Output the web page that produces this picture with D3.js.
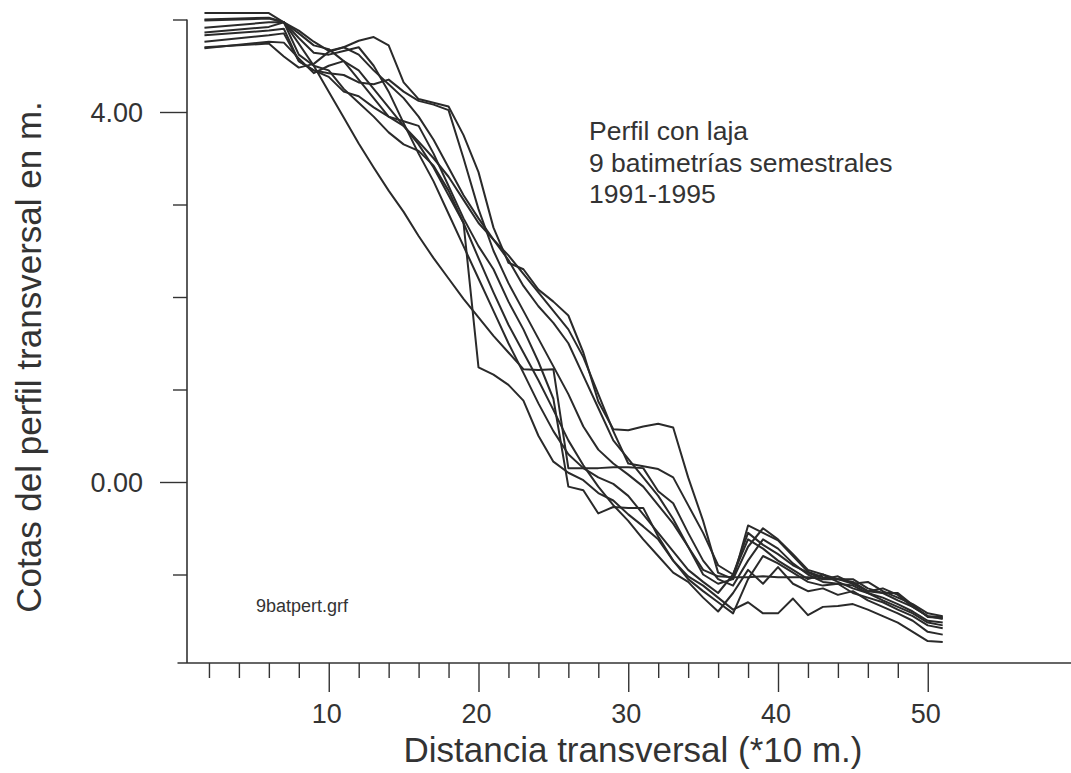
<!DOCTYPE html>
<html>
<head>
<meta charset="utf-8">
<script src="https://cdn.jsdelivr.net/npm/d3@7"></script>
<style>
  html, body { margin: 0; padding: 0; background: #fff; }
  svg { display: block; }
  text { font-family: "Liberation Sans", Arial, sans-serif; fill: #333; }
</style>
</head>
<body>
<svg id="chart" width="1071" height="773"></svg>
<script>
// Distance positions (*10 m)
const distances = [1.7, 6, 7, 8, 9, 10, 11, 12, 13, 14, 15, 16, 17, 18, 19, 20, 21, 22, 23, 24, 25, 26, 27, 28, 29, 30, 31, 32, 33, 34, 35, 36, 37, 38, 39, 40, 41, 42, 43, 44, 45, 46, 47, 48, 49, 50, 51];

// Nine semi-annual bathymetries (elevation, m)
const survey1 = [5.07, 5.07, 4.97, 4.88, 4.76, 4.66, 4.70, 4.77, 4.81, 4.72, 4.32, 4.14, 4.10, 4.06, 3.75, 3.35, 2.75, 2.37, 2.30, 2.08, 1.95, 1.80, 1.40, 0.87, 0.57, 0.56, 0.60, 0.63, 0.59, 0.05, -0.42, -0.98, -1.05, -0.47, -0.55, -0.63, -0.80, -0.97, -1.03, -1.05, -1.08, -1.18, -1.20, -1.20, -1.33, -1.46, -1.47];
const survey2 = [5.00, 5.02, 4.97, 4.74, 4.50, 4.22, 3.94, 3.66, 3.40, 3.15, 2.92, 2.66, 2.42, 2.20, 1.98, 1.78, 1.58, 1.40, 1.22, 1.21, 1.22, 0.15, 0.15, 0.15, 0.16, 0.16, 0.15, -0.10, -0.23, -0.55, -0.85, -1.05, -1.12, -0.85, -0.62, -0.72, -0.88, -1.00, -1.08, -1.10, -1.12, -1.20, -1.28, -1.35, -1.42, -1.52, -1.55];
const survey3 = [4.99, 5.01, 4.97, 4.85, 4.72, 4.68, 4.55, 4.35, 4.15, 3.95, 3.85, 3.65, 3.40, 3.10, 2.80, 1.24, 1.16, 1.05, 0.88, 0.50, 0.22, 0.10, 0.02, -0.12, -0.20, -0.35, -0.48, -0.62, -0.85, -1.02, -1.12, -1.25, -1.38, -1.30, -1.42, -1.42, -1.26, -1.44, -1.35, -1.34, -1.32, -1.38, -1.45, -1.52, -1.62, -1.72, -1.73];
const survey4 = [4.91, 4.97, 4.97, 4.80, 4.64, 4.62, 4.66, 4.70, 4.50, 4.22, 3.88, 3.55, 3.25, 2.90, 2.55, 2.20, 1.85, 1.50, 1.18, 0.85, 0.55, 0.30, 0.15, 0.05, -0.02, -0.15, -0.35, -0.55, -0.75, -0.95, -1.08, -1.20, -1.00, -0.62, -0.72, -0.85, -0.95, -1.05, -1.00, -1.08, -1.15, -1.20, -1.25, -1.32, -1.40, -1.50, -1.52];
const survey5 = [4.86, 4.92, 4.97, 4.62, 4.50, 4.45, 4.25, 4.10, 3.95, 3.78, 3.65, 3.58, 3.42, 3.15, 2.80, 2.42, 2.05, 1.70, 1.40, 1.10, 0.78, 0.45, 0.18, -0.05, -0.25, -0.42, -0.62, -0.80, -0.98, -1.08, -1.25, -1.40, -1.20, -0.95, -1.10, -0.92, -1.10, -1.18, -1.15, -1.22, -1.18, -1.28, -1.35, -1.42, -1.50, -1.62, -1.65];
const survey6 = [4.83, 4.88, 4.90, 4.55, 4.45, 4.38, 4.22, 4.17, 4.05, 3.95, 3.90, 3.85, 3.55, 3.20, 2.85, 2.55, 2.30, 1.95, 1.65, 1.30, 0.90, -0.05, -0.09, -0.34, -0.27, -0.28, -0.28, -0.59, -0.85, -1.05, -1.18, -1.30, -1.42, -1.05, -0.80, -0.88, -0.98, -1.08, -1.12, -1.10, -1.20, -1.25, -1.30, -1.38, -1.45, -1.55, -1.58];
const survey7 = [4.76, 4.83, 4.85, 4.55, 4.45, 4.42, 4.40, 4.32, 4.30, 4.35, 4.22, 4.12, 4.08, 4.02, 3.50, 2.95, 2.50, 2.15, 1.85, 1.55, 1.25, 0.95, 0.60, 0.35, 0.20, 0.08, -0.05, -0.25, -0.45, -0.70, -0.95, -1.02, -1.03, -1.03, -1.02, -1.03, -1.03, -1.03, -1.05, -1.02, -1.10, -1.08, -1.18, -1.25, -1.32, -1.42, -1.45];
const survey8 = [4.69, 4.76, 4.75, 4.58, 4.42, 4.50, 4.55, 4.45, 4.25, 4.05, 3.85, 3.68, 3.50, 3.30, 3.05, 2.80, 2.62, 2.40, 2.12, 1.90, 1.72, 1.50, 1.15, 0.80, 0.45, 0.25, 0.05, -0.15, -0.40, -0.70, -1.00, -1.10, -1.05, -0.70, -0.50, -0.62, -0.78, -0.95, -1.00, -1.05, -1.05, -1.15, -1.20, -1.28, -1.35, -1.45, -1.48];
const survey9 = [4.70, 4.74, 4.60, 4.48, 4.52, 4.65, 4.70, 4.62, 4.45, 4.30, 4.15, 3.95, 3.70, 3.40, 3.10, 2.85, 2.62, 2.45, 2.25, 2.05, 1.85, 1.65, 1.35, 0.95, 0.55, 0.20, 0.17, 0.14, 0.05, -0.25, -0.55, -0.90, -1.00, -0.55, -0.68, -0.78, -0.90, -0.98, -1.05, -1.05, -1.10, -1.18, -1.15, -1.22, -1.35, -1.45, -1.46];

const xMinorTicks = [2, 4, 6, 8, 12, 14, 16, 18, 22, 24, 26, 28, 32, 34, 36, 38, 42, 44, 46, 48];
const xMajorTicks = [10, 20, 30, 40, 50];
const yMinorTicks = [5, 3, 2, 1, -1];
const yMajorTicks = [4, 0];
const yTickLabels = ["4.00", "0.00"];

const noteLines = ["Perfil con laja", "9 batimetrías semestrales", "1991-1995"];
const fileLabel = "9batpert.grf";
const xTitle = "Distancia transversal (*10 m.)";
const yTitle = "Cotas del perfil transversal en m.";

const surveys = [survey1, survey2, survey3, survey4, survey5, survey6, survey7, survey8, survey9];

const svg = d3.select("#chart");
const ink = "#333";

const x = d3.scaleLinear().domain([0, 60]).range([179, 179 + 14.975 * 60]);
const y = d3.scaleLinear().domain([-2, 5]).range([667, 19.5]);

const axisY0 = 663;   // pixel row of x-axis
const axisX0 = 187;   // pixel column of y-axis

// x axis ticks
const gxMinor = svg.append("g").attr("transform", `translate(0,${axisY0})`)
  .call(d3.axisBottom(x).tickValues(xMinorTicks).tickSize(15).tickFormat(""));
const gxMajor = svg.append("g").attr("transform", `translate(0,${axisY0})`)
  .call(d3.axisBottom(x).tickValues(xMajorTicks).tickSize(29).tickFormat(""));
[gxMinor, gxMajor].forEach(g => {
  g.select(".domain").remove();
  g.selectAll(".tick line").attr("stroke", ink).attr("stroke-width", 1.4);
});

// y axis ticks
const gyMinor = svg.append("g").attr("transform", `translate(${axisX0},0)`)
  .call(d3.axisLeft(y).tickValues(yMinorTicks).tickSize(14).tickFormat(""));
const gyMajor = svg.append("g").attr("transform", `translate(${axisX0},0)`)
  .call(d3.axisLeft(y).tickValues(yMajorTicks).tickSize(27).tickFormat(""));
[gyMinor, gyMajor].forEach(g => {
  g.select(".domain").remove();
  g.selectAll(".tick line").attr("stroke", ink).attr("stroke-width", 1.4);
});

// axis lines
svg.append("line").attr("x1", x(-0.1)).attr("x2", 1071).attr("y1", axisY0).attr("y2", axisY0)
  .attr("stroke", ink).attr("stroke-width", 1.6);
svg.append("line").attr("x1", axisX0).attr("x2", axisX0).attr("y1", y(5.0)).attr("y2", axisY0)
  .attr("stroke", ink).attr("stroke-width", 1.6);

// tick labels
svg.selectAll(".xlab").data(xMajorTicks).enter().append("text")
  .attr("x", d => x(d) - 2).attr("y", 723)
  .attr("text-anchor", "middle").attr("font-size", 27).text(d => d);
svg.selectAll(".ylab").data(yMajorTicks).enter().append("text")
  .attr("x", 143).attr("y", d => y(d) + 10)
  .attr("text-anchor", "end").attr("font-size", 27).text((d, i) => yTickLabels[i]);

// axis titles
svg.append("text").attr("x", 633).attr("y", 762).attr("text-anchor", "middle")
  .attr("font-size", 35).text(xTitle);
svg.append("text").attr("transform", "translate(41,357) rotate(-90)")
  .attr("text-anchor", "middle").attr("font-size", 35).text(yTitle);

// annotations
svg.selectAll(".note").data(noteLines).enter().append("text")
  .attr("x", 589).attr("y", (d, i) => 140 + i * 31.5)
  .attr("font-size", 26.5).text(d => d);
svg.append("text").attr("x", 256).attr("y", 612).attr("font-size", 18).text(fileLabel);

// profiles
const line = d3.line().x((d, i) => x(distances[i])).y(d => y(d));
svg.append("g").selectAll("path").data(surveys).enter().append("path")
  .attr("d", line)
  .attr("fill", "none")
  .attr("stroke", "#2a2a2a")
  .attr("stroke-width", 2)
  .attr("stroke-linejoin", "round");
</script>
</body>
</html>
